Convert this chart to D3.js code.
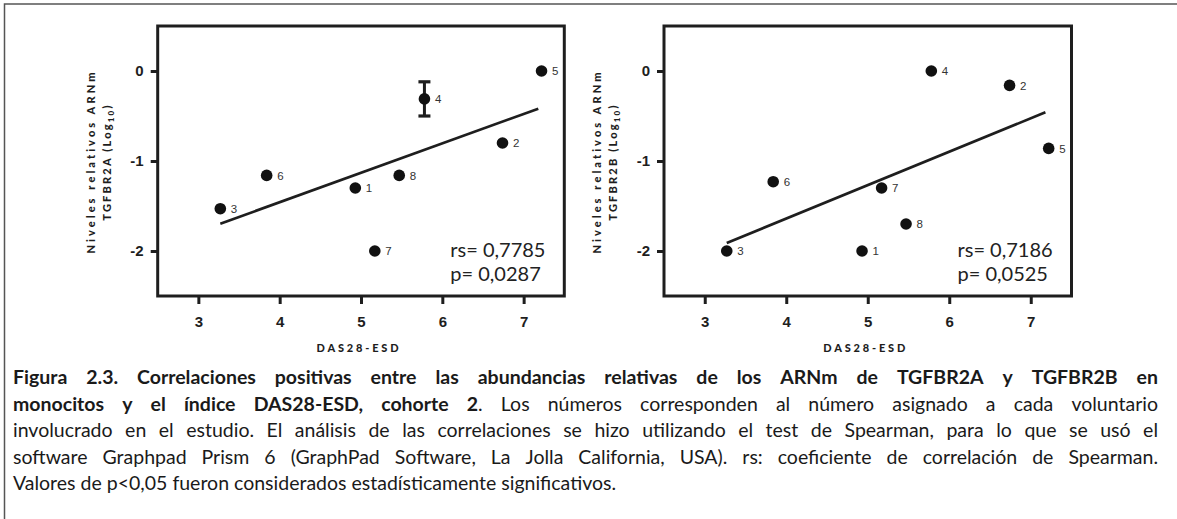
<!DOCTYPE html>
<html>
<head>
<meta charset="utf-8">
<script src="https://cdn.jsdelivr.net/npm/d3@7"></script>
<style>
  body { margin: 0; background: #fff; }
  svg { display: block; }
</style>
</head>
<body>
<svg id="chart" width="1177" height="519"></svg>
<script>
// ---- data ----
var volunteers = [1, 2, 3, 4, 5, 6, 7, 8];
var das28 = [4.93, 6.74, 3.27, 5.78, 7.22, 3.84, 5.17, 5.47];
var tgfbr2a = [-1.30, -0.80, -1.53, -0.31, 0.00, -1.16, -2.00, -1.16];
var tgfbr2b = [-2.00, -0.16, -2.00, 0.00, -0.86, -1.23, -1.30, -1.70];
var errorBarsA = [{ id: 4, low: -0.50, high: -0.12 }];
var genes = ["TGFBR2A", "TGFBR2B"];
var rsLabels = ["rs= 0,7785", "rs= 0,7186"];
var pLabels = ["p= 0,0287", "p= 0,0525"];
var xTicks = [3, 4, 5, 6, 7];
var yTicks = [0, -1, -2];

var captionLines = [
  [["Figura 2.3. Correlaciones positivas entre las abundancias relativas de los ARNm de TGFBR2A y TGFBR2B en", true]],
  [["monocitos y el índice DAS28-ESD, cohorte 2", true], [". Los números corresponden al número asignado a cada voluntario", false]],
  [["involucrado en el estudio. El análisis de las correlaciones se hizo utilizando el test de Spearman, para lo que se usó el", false]],
  [["software Graphpad Prism 6 (GraphPad Software, La Jolla California, USA). rs: coeficiente de correlación de Spearman.", false]],
  [["Valores de p<0,05 fueron considerados estadísticamente significativos.", false]]
];

var svg = d3.select("#chart");
var ink = "#1e1e1e";

// outer figure border (only top and left show in the frame)
svg.append("rect")
  .attr("x", 4.5).attr("y", 4)
  .attr("width", 1400).attr("height", 800)
  .attr("fill", "none").attr("stroke", "#555").attr("stroke-width", 1.5);

var panels = [
  { left: 157.7, right: 564.3, values: tgfbr2a, errors: errorBarsA },
  { left: 664, right: 1071.5, values: tgfbr2b, errors: [] }
];
var plotTop = 26, plotBottom = 296;

panels.forEach(function(p, i) {
  var x = d3.scaleLinear().domain([2.5, 7.5]).range([p.left, p.right]);
  var y = d3.scaleLinear().domain([-2.5, 0.5]).range([plotBottom, plotTop]);
  var g = svg.append("g");

  var pts = volunteers.map(function(v, k) {
    return { id: v, x: das28[k], y: p.values[k] };
  });

  // axes
  var xAxis = g.append("g")
    .attr("transform", "translate(0," + plotBottom + ")")
    .call(d3.axisBottom(x).tickValues(xTicks).tickSize(8).tickPadding(12).tickFormat(function(d) { return String(d); }));
  var yAxis = g.append("g")
    .attr("transform", "translate(" + p.left + ",0)")
    .call(d3.axisLeft(y).tickValues(yTicks).tickSize(7).tickPadding(7).tickFormat(function(d) { return String(d); }));
  [xAxis, yAxis].forEach(function(a) {
    a.select(".domain").remove();
    a.selectAll(".tick line").attr("stroke", ink).attr("stroke-width", 3);
    a.selectAll(".tick text")
      .attr("fill", ink)
      .style("font-family", "'Liberation Sans', Arial, sans-serif")
      .style("font-weight", "bold")
      .style("font-size", "15px");
  });

  // frame
  g.append("rect")
    .attr("x", x(2.5)).attr("y", y(0.5))
    .attr("width", x(7.5) - x(2.5)).attr("height", y(-2.5) - y(0.5))
    .attr("fill", "none").attr("stroke", ink).attr("stroke-width", 3);

  // least squares line
  var mx = d3.mean(pts, function(d) { return d.x; });
  var my = d3.mean(pts, function(d) { return d.y; });
  var slope = d3.sum(pts, function(d) { return (d.x - mx) * (d.y - my); }) /
              d3.sum(pts, function(d) { return (d.x - mx) * (d.x - mx); });
  var x0 = d3.min(pts, function(d) { return d.x; });
  var x1 = d3.max(pts, function(d) { return d.x; }) - 0.04;
  g.append("line")
    .attr("x1", x(x0)).attr("y1", y(my + slope * (x0 - mx)))
    .attr("x2", x(x1)).attr("y2", y(my + slope * (x1 - mx)))
    .attr("stroke", ink).attr("stroke-width", 2.7);

  // error bars
  p.errors.forEach(function(e) {
    var cx = x(das28[volunteers.indexOf(e.id)]);
    g.append("line").attr("x1", cx).attr("x2", cx)
      .attr("y1", y(e.low)).attr("y2", y(e.high))
      .attr("stroke", ink).attr("stroke-width", 3);
    [e.low, e.high].forEach(function(v) {
      g.append("line").attr("x1", cx - 6).attr("x2", cx + 6)
        .attr("y1", y(v)).attr("y2", y(v))
        .attr("stroke", ink).attr("stroke-width", 3.2);
    });
  });

  // points
  g.append("g").selectAll("circle")
    .data(pts).enter().append("circle")
    .attr("cx", function(d) { return x(d.x); })
    .attr("cy", function(d) { return y(d.y); })
    .attr("r", 5.8)
    .attr("fill", "#111");

  g.append("g").selectAll("text")
    .data(pts).enter().append("text")
    .attr("x", function(d) { return x(d.x) + 10.5; })
    .attr("y", function(d) { return y(d.y) + 4.2; })
    .attr("fill", "#333")
    .style("font-family", "'Liberation Sans', Arial, sans-serif")
    .style("font-size", "11.5px")
    .text(function(d) { return d.id; });

  // stats
  [rsLabels[i], pLabels[i]].forEach(function(s, k) {
    g.append("text")
      .attr("x", p.right - 114)
      .attr("y", 256.5 + k * 24.5)
      .attr("fill", "#222")
      .style("font-family", "Lato, 'Open Sans', sans-serif")
      .style("font-size", "20px")
      .text(s);
  });

  // axis titles
  var cy = (plotTop + plotBottom) / 2 + 1;
  var titleFont = function(t) {
    return t.attr("fill", ink)
      .style("font-family", "Lato, sans-serif")
      .style("font-weight", "900")
      .style("font-size", "11px");
  };
  titleFont(g.append("text"))
    .attr("transform", "translate(" + (p.left - 63) + "," + cy + ") rotate(-90)")
    .attr("text-anchor", "middle")
    .attr("textLength", 183).attr("lengthAdjust", "spacing")
    .style("letter-spacing", "2px")
    .text("Niveles relativos ARNm");
  var t2 = titleFont(g.append("text"))
    .attr("transform", "translate(" + (p.left - 47) + "," + cy + ") rotate(-90)")
    .attr("text-anchor", "middle")
    .style("letter-spacing", "2.2px");
  t2.append("tspan").text(genes[i] + " (Log");
  t2.append("tspan").attr("dy", 3).style("font-size", "8px").text("10");
  t2.append("tspan").attr("dy", -3).text(")");

  titleFont(g.append("text"))
    .attr("x", (p.left + p.right) / 2 - 2)
    .attr("y", 352)
    .attr("text-anchor", "middle")
    .attr("textLength", 85).attr("lengthAdjust", "spacing")
    .style("letter-spacing", "3px")
    .text("DAS28-ESD");
});

// ---- caption, justified like the source page ----
function tokenize(segments) {
  var words = [], cur = [];
  segments.forEach(function(seg) {
    seg[0].split(" ").forEach(function(part, k) {
      if (k > 0) { if (cur.length) words.push(cur); cur = []; }
      if (part) cur.push([part, seg[1]]);
    });
  });
  if (cur.length) words.push(cur);
  return words;
}

var cap = svg.append("g")
  .style("font-family", "Lato, 'Open Sans', sans-serif")
  .style("font-size", "19.5px")
  .attr("fill", "#1a1a1a");
var capLeft = 13, capRight = 1158, capWidth = capRight - capLeft;

captionLines.forEach(function(line, li) {
  var base = 384 + li * 26.5;
  var words = tokenize(line);
  var texts = words.map(function(w) {
    var t = cap.append("text").attr("y", base);
    w.forEach(function(piece) {
      t.append("tspan").attr("font-weight", piece[1] ? 700 : 400).text(piece[0]);
    });
    return t;
  });
  var widths = texts.map(function(t) { return t.node().getComputedTextLength(); });
  var total = d3.sum(widths);
  var last = li === captionLines.length - 1;
  var minGap = 4.5;
  var gap = last ? 5 : (capWidth - total) / (words.length - 1);
  var scale = 1;
  if (gap < minGap) {
    gap = minGap;
    scale = (capWidth - minGap * (words.length - 1)) / total;
  }
  var cx = capLeft;
  texts.forEach(function(t, k) {
    var w = widths[k] * scale;
    t.attr("x", cx);
    if (scale < 1) t.attr("textLength", w).attr("lengthAdjust", "spacingAndGlyphs");
    cx += w + gap;
  });
});
</script>
</body>
</html>
